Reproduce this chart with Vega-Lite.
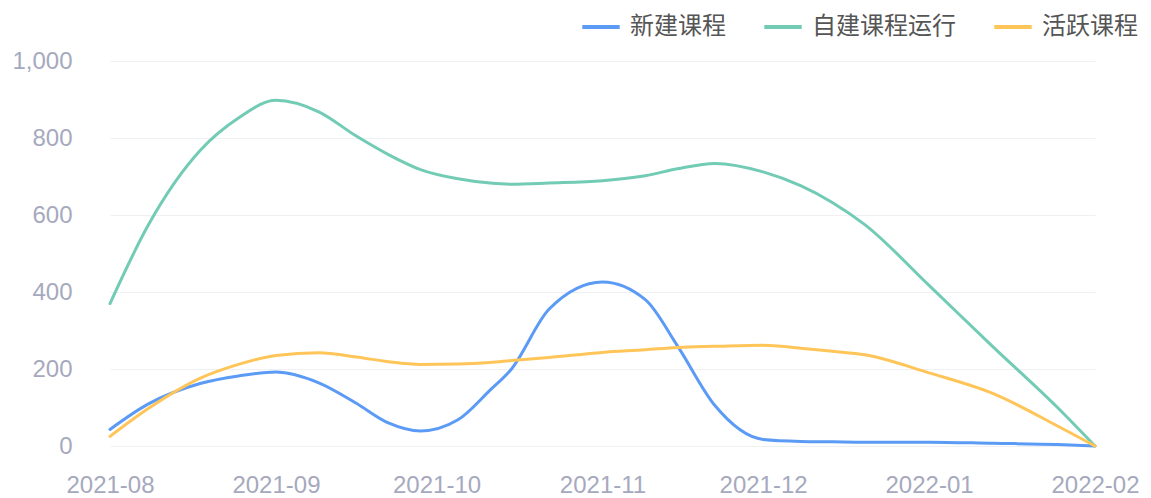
{
  "$schema": "https://vega.github.io/schema/vega-lite/v6.json",
  "width": 985,
  "height": 385,
  "autosize": "none",
  "padding": {"left": 110, "top": 61, "right": 56, "bottom": 52},
  "background": "white",
  "config": {
    "view": {"stroke": null},
    "font": "Liberation Sans"
  },
  "data": {
    "values": [
      {"date": "2021-08-01T00:00", "series": "新建课程", "value": 43},
      {"date": "2021-08-08T00:00", "series": "新建课程", "value": 108},
      {"date": "2021-08-18T00:00", "series": "新建课程", "value": 163},
      {"date": "2021-08-25T00:00", "series": "新建课程", "value": 182},
      {"date": "2021-09-01T00:00", "series": "新建课程", "value": 192},
      {"date": "2021-09-09T00:00", "series": "新建课程", "value": 164},
      {"date": "2021-09-16T00:00", "series": "新建课程", "value": 111},
      {"date": "2021-09-22T00:00", "series": "新建课程", "value": 60},
      {"date": "2021-09-28T00:00", "series": "新建课程", "value": 39},
      {"date": "2021-10-05T00:00", "series": "新建课程", "value": 68},
      {"date": "2021-10-11T00:00", "series": "新建课程", "value": 145},
      {"date": "2021-10-15T00:00", "series": "新建课程", "value": 200},
      {"date": "2021-10-22T00:00", "series": "新建课程", "value": 355},
      {"date": "2021-11-01T00:00", "series": "新建课程", "value": 426},
      {"date": "2021-11-09T00:00", "series": "新建课程", "value": 380},
      {"date": "2021-11-15T00:00", "series": "新建课程", "value": 260},
      {"date": "2021-11-22T00:00", "series": "新建课程", "value": 105},
      {"date": "2021-12-01T00:00", "series": "新建课程", "value": 17},
      {"date": "2021-12-08T00:00", "series": "新建课程", "value": 12},
      {"date": "2021-12-14T00:00", "series": "新建课程", "value": 11},
      {"date": "2021-12-20T00:00", "series": "新建课程", "value": 10},
      {"date": "2022-01-01T00:00", "series": "新建课程", "value": 10},
      {"date": "2022-01-13T00:00", "series": "新建课程", "value": 7},
      {"date": "2022-01-25T00:00", "series": "新建课程", "value": 4},
      {"date": "2022-02-01T00:00", "series": "新建课程", "value": 0},

      {"date": "2021-08-01T00:00", "series": "自建课程运行", "value": 370},
      {"date": "2021-08-08T00:00", "series": "自建课程运行", "value": 570},
      {"date": "2021-08-18T00:00", "series": "自建课程运行", "value": 770},
      {"date": "2021-08-25T00:00", "series": "自建课程运行", "value": 852},
      {"date": "2021-09-01T00:00", "series": "自建课程运行", "value": 898},
      {"date": "2021-09-09T00:00", "series": "自建课程运行", "value": 868},
      {"date": "2021-09-16T00:00", "series": "自建课程运行", "value": 805},
      {"date": "2021-09-22T00:00", "series": "自建课程运行", "value": 757},
      {"date": "2021-09-28T00:00", "series": "自建课程运行", "value": 718},
      {"date": "2021-10-05T00:00", "series": "自建课程运行", "value": 694},
      {"date": "2021-10-11T00:00", "series": "自建课程运行", "value": 683},
      {"date": "2021-10-15T00:00", "series": "自建课程运行", "value": 680},
      {"date": "2021-10-22T00:00", "series": "自建课程运行", "value": 683},
      {"date": "2021-11-01T00:00", "series": "自建课程运行", "value": 689},
      {"date": "2021-11-09T00:00", "series": "自建课程运行", "value": 702},
      {"date": "2021-11-15T00:00", "series": "自建课程运行", "value": 720},
      {"date": "2021-11-22T00:00", "series": "自建课程运行", "value": 734},
      {"date": "2021-12-01T00:00", "series": "自建课程运行", "value": 712},
      {"date": "2021-12-08T00:00", "series": "自建课程运行", "value": 676},
      {"date": "2021-12-14T00:00", "series": "自建课程运行", "value": 632},
      {"date": "2021-12-20T00:00", "series": "自建课程运行", "value": 575},
      {"date": "2022-01-01T00:00", "series": "自建课程运行", "value": 417},
      {"date": "2022-01-13T00:00", "series": "自建课程运行", "value": 257},
      {"date": "2022-01-25T00:00", "series": "自建课程运行", "value": 100},
      {"date": "2022-02-01T00:00", "series": "自建课程运行", "value": 0},

      {"date": "2021-08-01T00:00", "series": "活跃课程", "value": 25},
      {"date": "2021-08-08T00:00", "series": "活跃课程", "value": 96},
      {"date": "2021-08-18T00:00", "series": "活跃课程", "value": 177},
      {"date": "2021-08-25T00:00", "series": "活跃课程", "value": 212},
      {"date": "2021-09-01T00:00", "series": "活跃课程", "value": 235},
      {"date": "2021-09-09T00:00", "series": "活跃课程", "value": 242},
      {"date": "2021-09-16T00:00", "series": "活跃课程", "value": 231},
      {"date": "2021-09-22T00:00", "series": "活跃课程", "value": 219},
      {"date": "2021-09-28T00:00", "series": "活跃课程", "value": 212},
      {"date": "2021-10-05T00:00", "series": "活跃课程", "value": 213},
      {"date": "2021-10-11T00:00", "series": "活跃课程", "value": 217},
      {"date": "2021-10-15T00:00", "series": "活跃课程", "value": 222},
      {"date": "2021-10-22T00:00", "series": "活跃课程", "value": 230},
      {"date": "2021-11-01T00:00", "series": "活跃课程", "value": 243},
      {"date": "2021-11-09T00:00", "series": "活跃课程", "value": 250},
      {"date": "2021-11-15T00:00", "series": "活跃课程", "value": 256},
      {"date": "2021-11-22T00:00", "series": "活跃课程", "value": 259},
      {"date": "2021-12-01T00:00", "series": "活跃课程", "value": 262},
      {"date": "2021-12-08T00:00", "series": "活跃课程", "value": 254},
      {"date": "2021-12-14T00:00", "series": "活跃课程", "value": 246},
      {"date": "2021-12-20T00:00", "series": "活跃课程", "value": 237},
      {"date": "2022-01-01T00:00", "series": "活跃课程", "value": 190},
      {"date": "2022-01-13T00:00", "series": "活跃课程", "value": 136},
      {"date": "2022-01-25T00:00", "series": "活跃课程", "value": 52},
      {"date": "2022-02-01T00:00", "series": "活跃课程", "value": 0}
    ]
  },
  "mark": {"type": "line", "interpolate": "monotone", "strokeWidth": 3, "strokeCap": "round"},
  "encoding": {
    "x": {
      "field": "date",
      "type": "temporal",
      "scale": {"domain": ["2021-08-01T00:00", "2022-02-01T00:00"], "nice": false},
      "axis": {
        "title": null,
        "format": "%Y-%m",
        "tickCount": {"interval": "month", "step": 1},
        "grid": false,
        "domain": false,
        "ticks": false,
        "labelPadding": 27,
        "labelFontSize": 24,
        "labelColor": "#A6A9BE",
        "labelOverlap": false,
        "labelFlush": false,
        "labelAlign": "center"
      }
    },
    "y": {
      "field": "value",
      "type": "quantitative",
      "scale": {"domain": [0, 1000], "nice": false},
      "axis": {
        "title": null,
        "format": ",d",
        "values": [0, 200, 400, 600, 800, 1000],
        "domain": false,
        "ticks": false,
        "labelPadding": 38,
        "labelFontSize": 24,
        "labelColor": "#A6A9BE",
        "gridColor": "#EFF0F3",
        "gridWidth": 1
      }
    },
    "color": {
      "field": "series",
      "type": "nominal",
      "sort": ["新建课程", "自建课程运行", "活跃课程"],
      "scale": {
        "domain": ["新建课程", "自建课程运行", "活跃课程"],
        "range": ["#5B9BF5", "#72CBB4", "#FFC559"]
      },
      "legend": {
        "title": null,
        "orient": "none",
        "direction": "horizontal",
        "legendX": 470,
        "legendY": -55,
        "symbolType": "stroke",
        "symbolSize": 1400,
        "symbolStrokeWidth": 4,
        "labelFont": "Noto Sans CJK SC",
        "labelFontSize": 24,
        "labelColor": "#555555",
        "labelOffset": 8,
        "columnPadding": 30
      }
    }
  }
}
